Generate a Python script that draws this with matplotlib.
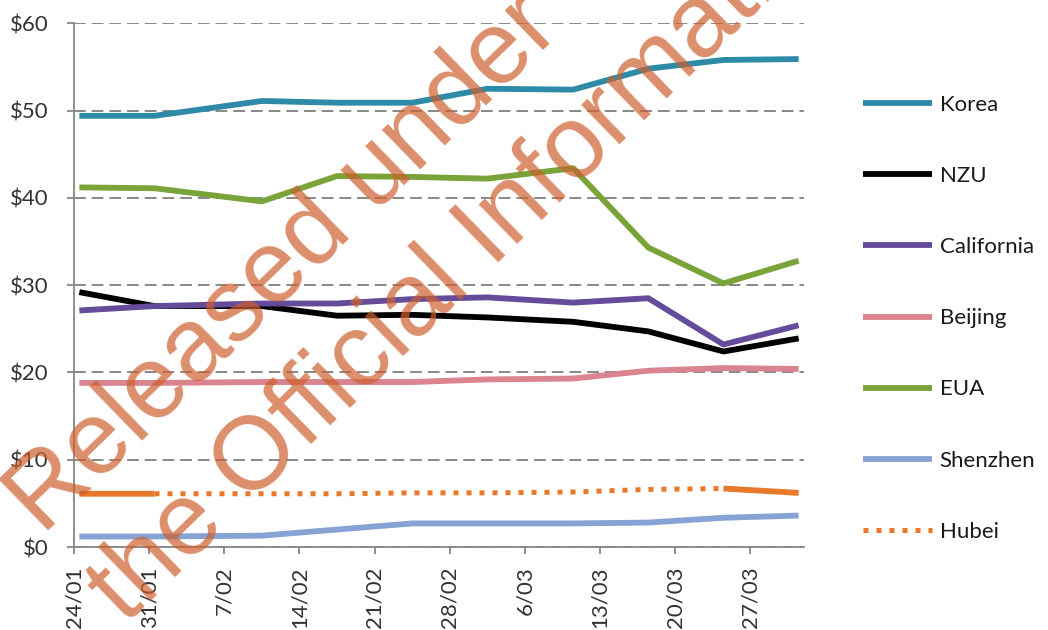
import matplotlib
matplotlib.use("Agg")
import matplotlib.pyplot as plt
import pandas as pd
import numpy as np

nan = np.nan

# ---- data ----
dates = ["2020-01-24", "2020-01-31", "2020-02-10", "2020-02-17", "2020-02-24",
         "2020-03-02", "2020-03-10", "2020-03-17", "2020-03-24", "2020-03-31"]
korea = [49.4, 49.4, 51.1, 50.9, 50.9, 52.5, 52.4, 54.8, 55.8, 55.9]
nzu = [29.2, 27.6, 27.6, 26.5, 26.6, 26.3, 25.8, 24.7, 22.4, 23.9]
california = [27.1, 27.6, 27.9, 27.9, 28.4, 28.6, 28.0, 28.5, 23.2, 25.4]
beijing = [18.8, 18.8, 18.9, 18.9, 18.9, 19.2, 19.3, 20.2, 20.5, 20.4]
eua = [41.2, 41.1, 39.6, 42.5, 42.4, 42.2, 43.4, 34.3, 30.2, 32.8]
shenzhen = [1.2, 1.2, 1.3, 2.0, 2.7, 2.7, 2.7, 2.8, 3.35, 3.6]
hubei_traded = [6.1, 6.1, nan, nan, nan, nan, nan, nan, 6.7, 6.2]
hubei = [nan, 6.1, 6.1, 6.1, 6.2, 6.2, 6.3, 6.6, 6.7, nan]

tick_dates = ["2020-01-24", "2020-01-31", "2020-02-07", "2020-02-14", "2020-02-21",
              "2020-02-28", "2020-03-06", "2020-03-13", "2020-03-20", "2020-03-27"]
tick_labels = ["24/01", "31/01", "7/02", "14/02", "21/02",
               "28/02", "6/03", "13/03", "20/03", "27/03"]
y_ticks = [0, 10, 20, 30, 40, 50, 60]
y_labels = ["$0", "$10", "$20", "$30", "$40", "$50", "$60"]

plt.rcParams['font.family'] = ['Lato', 'DejaVu Sans']

W, H = 1048, 630
fig = plt.figure(figsize=(W / 100, H / 100), dpi=100)
ax = fig.add_axes([74 / W, 1 - 547 / H, (804 - 74) / W, (547 - 23.3) / H])

x = pd.to_datetime(dates) + pd.Timedelta(hours=12)
lw = 4.2
series = [
    ("Korea", korea, "#2E8BA8", "-"),
    ("NZU", nzu, "#000000", "-"),
    ("California", california, "#644C9A", "-"),
    ("Beijing", beijing, "#D9848E", "-"),
    ("EUA", eua, "#7AA33A", "-"),
    ("Shenzhen", shenzhen, "#87A3D6", "-"),
]
for name, vals, col, ls in series:
    ax.plot(x, vals, color=col, lw=lw, ls=ls, label=name, solid_capstyle='butt',
            solid_joinstyle='round')
ax.plot(x, hubei_traded, color="#E8792A", lw=lw, solid_capstyle='butt', label='_nolegend_')
ax.plot(x, hubei, color="#E8792A", lw=3.6, ls=(0, (1, 1.6)), dash_capstyle='butt',
        label="Hubei")

ax.set_xlim(pd.Timestamp("2020-01-24"), pd.Timestamp("2020-04-01"))
ax.set_ylim(0, 60)
ax.set_yticks(y_ticks)
ax.set_yticklabels(y_labels)
ax.set_xticks(pd.to_datetime(tick_dates))
ax.set_xticklabels(tick_labels, rotation=90)

for s in ['top', 'right']:
    ax.spines[s].set_visible(False)
for s in ['left', 'bottom']:
    ax.spines[s].set_color('#868686')
    ax.spines[s].set_linewidth(1.3)
ax.tick_params(axis='both', colors='#868686', width=1.3, length=5,
               labelcolor='#333333', labelsize=16)
ax.tick_params(axis='y', pad=13)
ax.tick_params(axis='x', pad=9)
ax.yaxis.grid(True, color='#7F7F7F', lw=1.3, ls=(0, (6.5, 3.3)))
ax.set_axisbelow(True)

leg = fig.legend(loc='upper left', bbox_to_anchor=(863 / W, 1 - 95 / H),
                 frameon=False, fontsize=16, handlelength=3.1, handletextpad=0.35,
                 labelspacing=2.3, borderpad=0, borderaxespad=0)
for t in leg.get_texts():
    t.set_color('#1a1a1a')

# watermark
wm_kw = dict(fontsize=74, family='Liberation Sans', color='#CD5F2D', alpha=0.7,
             rotation=44.2, rotation_mode='anchor', ha='left', va='baseline', zorder=10)
fig.text(43 / W, 1 - 536 / H, "Released under", **wm_kw)
fig.text(125 / W, 1 - 625 / H, "the Official Information Act", **wm_kw)

fig.savefig("out.png", dpi=100)
